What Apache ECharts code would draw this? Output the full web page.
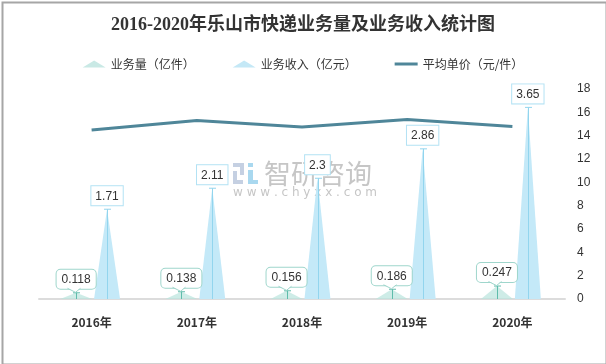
<!DOCTYPE html>
<html><head><meta charset="utf-8">
<script src="https://cdn.jsdelivr.net/npm/echarts@6/dist/echarts.min.js"></script>
<style>html,body{margin:0;padding:0;background:#fff}#c{width:606px;height:364px}</style>
</head><body><div id="c"></div>
<script>
const years = ['2016年','2017年','2018年','2019年','2020年'];
const volume = [0.118, 0.138, 0.156, 0.186, 0.247];
const revenue = [1.71, 2.11, 2.3, 2.86, 3.65];
const avgPrice = [14.49, 15.29, 14.74, 15.38, 14.78];
const rightTicks = {min: 0, max: 18, interval: 2};

const chart = echarts.init(document.getElementById('c'));
const VOL_OFF = -15.5, REV_OFF = 15.5;

function stemRender(off, color, callout) {
  return function (params, api) {
    const top = api.coord([api.value(0), api.value(1)]);
    const base = api.coord([api.value(0), 0]);
    const x = Math.round(top[0] + off) + 0.5;
    const children = [
      {type: 'line', shape: {x1: x, y1: top[1], x2: x, y2: base[1]}, style: {stroke: color, lineWidth: 1}},
      {type: 'line', shape: {x1: x - 3.5, y1: top[1], x2: x + 3.5, y2: top[1]}, style: {stroke: color, lineWidth: 1}}
    ];
    if (callout) {
      const by = top[1] - 4.5;
      children.push({type: 'polygon', shape: {points: [[x - 9, by - 0.5], [x - 1, top[1] - 0.5], [x + 4, by - 0.5]]},
        style: {fill: '#fff', stroke: null}, z2: 10});
      children.push({type: 'polyline', shape: {points: [[x - 9, by], [x - 1, top[1] - 0.5], [x + 4, by]]},
        style: {stroke: '#9fd6cc', lineWidth: 1, fill: null}, z2: 11});
    }
    return {type: 'group', children: children};
  };
}

const option = {
  backgroundColor: '#fff',
  animation: false,
  title: {
    text: '2016-2020年乐山市快递业务量及业务收入统计图',
    left: 'center', top: 11,
    textStyle: {fontFamily: "'Liberation Serif','Noto Sans CJK SC'", fontSize: 18, fontWeight: 'bold', color: '#333'}
  },
  legend: {
    top: 53, left: 'center', itemWidth: 23, itemHeight: 7, itemGap: 38, symbolKeepAspect: true,
    textStyle: {fontSize: 12, color: '#333', fontFamily: "'Noto Sans CJK SC'"},
    data: [
      {name: '业务量（亿件）', icon: 'triangle', itemStyle: {color: '#c9e9e5'}},
      {name: '业务收入（亿元）', icon: 'triangle', itemStyle: {color: '#c4e8f6'}},
      {name: '平均单价（元/件）', icon: 'path://M0,0 L46,0 L46,6 L0,6 Z', itemStyle: {color: '#4f8699'}}
    ]
  },
  grid: {left: 39, right: 41, top: 89, bottom: 65},
  xAxis: {
    type: 'category', data: years,
    axisLine: {lineStyle: {color: '#dcdcdc', width: 2}},
    axisTick: {show: false},
    axisLabel: {fontSize: 12, fontWeight: 'bold', color: '#333', margin: 17, fontFamily: "'Noto Sans CJK SC'"}
  },
  yAxis: [
    {type: 'value', min: 0, max: 4, show: false, splitLine: {show: false}},
    {type: 'value', position: 'right', min: rightTicks.min, max: rightTicks.max, interval: rightTicks.interval,
     splitLine: {show: false}, axisLine: {show: false}, axisTick: {show: false},
     axisLabel: {color: '#333', fontSize: 12, margin: 12}}
  ],
  graphic: [
    {type: 'rect', left: 0, top: 0, shape: {x: 1, y: 1, width: 604, height: 362}, style: {fill: null, stroke: '#a6a6a6', lineWidth: 2}, silent: true, z: 100},
    {type: 'group', left: 233, top: 163, z: 0, children: [
      {type: 'rect', shape: {x: 0, y: 0, width: 11, height: 4}, style: {fill: '#c5d0e2'}},
      {type: 'rect', shape: {x: 7, y: 0, width: 4, height: 12}, style: {fill: '#c5d0e2'}},
      {type: 'rect', shape: {x: 0, y: 8, width: 4, height: 13}, style: {fill: '#c5d0e2'}},
      {type: 'rect', shape: {x: 0, y: 17, width: 10, height: 4}, style: {fill: '#c5d0e2'}},
      {type: 'rect', shape: {x: 15, y: 0, width: 5, height: 4}, style: {fill: '#a9d8ef'}},
      {type: 'rect', shape: {x: 15, y: 7, width: 5, height: 14}, style: {fill: '#a9d8ef'}},
      {type: 'rect', shape: {x: 15, y: 17, width: 10, height: 4}, style: {fill: '#a9d8ef'}}
    ]},
    {type: 'text', left: 264, top: 160, z: 0, style: {text: '智研咨询', fontSize: 27, fill: '#c6c6c6', fontFamily: "'Noto Sans CJK SC'"}},
    {type: 'text', left: 233, top: 187, z: 0, style: {text: 'w w w . c h y x x . c o m', fontSize: 12, fill: '#c6c6c6', fontFamily: 'DejaVu Sans'}}
  ],
  series: [
    {
      name: '业务量（亿件）', type: 'pictorialBar', yAxisIndex: 0, data: volume,
      symbol: 'triangle', symbolSize: [32, '100%'], barWidth: 30, barGap: '3%',
      itemStyle: {color: 'rgba(185,228,221,0.7)'}, z: 3,
      label: {show: true, position: 'top', distance: 4, color: '#333', fontSize: 12,
        backgroundColor: '#fff', borderColor: '#9fd6cc', borderWidth: 1, borderRadius: 4, padding: [4, 5, 3, 5]}
    },
    {
      name: '业务收入（亿元）', type: 'pictorialBar', yAxisIndex: 0, data: revenue,
      symbol: 'triangle', symbolSize: [26, '100%'], barWidth: 30, barGap: '3%',
      itemStyle: {color: '#c4e9f8'}, z: 3,
      label: {show: true, position: 'top', distance: 4, color: '#333', fontSize: 12,
        backgroundColor: '#fff', borderColor: '#b3e2f4', borderWidth: 1, padding: [4, 4, 3, 4]}
    },
    {
      name: '平均单价（元/件）', type: 'line', yAxisIndex: 1, data: avgPrice,
      symbol: 'none', lineStyle: {color: '#4f8699', width: 3}, itemStyle: {color: '#4f8699'}, z: 2
    },
    {
      type: 'custom', yAxisIndex: 0, z: 4, silent: true,
      data: volume.map((v, i) => [i, v]), renderItem: stemRender(VOL_OFF, '#5fbcab', true)
    },
    {
      type: 'custom', yAxisIndex: 0, z: 4, silent: true,
      data: revenue.map((v, i) => [i, v]), renderItem: stemRender(REV_OFF, '#92d5ee', false)
    }
  ]
};
chart.setOption(option);
</script></body></html>
